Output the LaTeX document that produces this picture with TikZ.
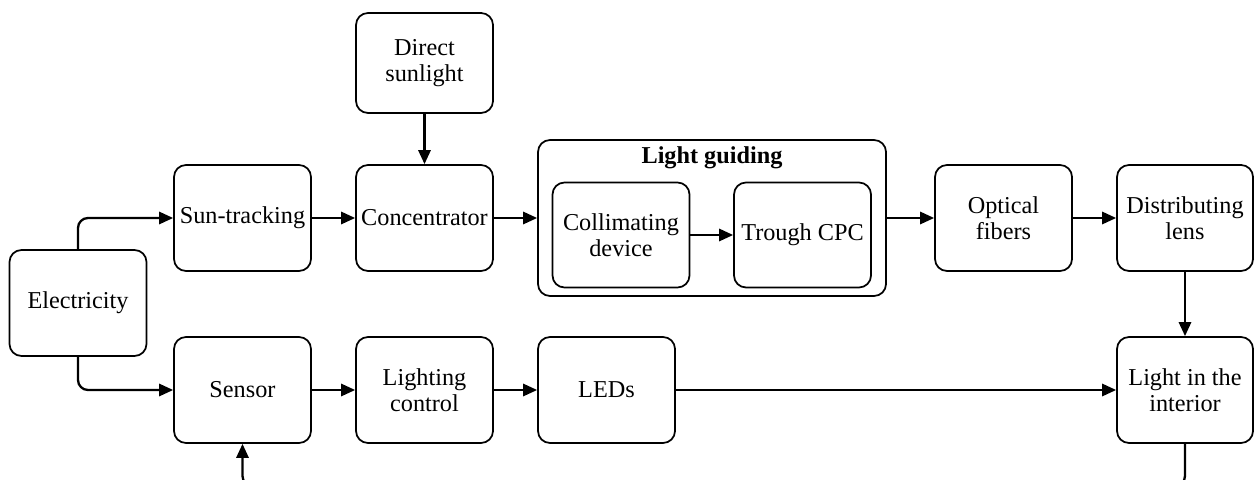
\documentclass[tikz,border=0pt]{standalone}
\usepackage{fontspec}
\setmainfont{Liberation Serif}
\usepackage{tikz}
\usetikzlibrary{arrows.meta,positioning}

\tikzset{
  blk/.style={draw,line width=1pt,rounded corners=0.24cm,minimum width=2.74cm,minimum height=2.12cm,align=center,inner sep=1pt},
  grp/.style={draw,line width=1pt,rounded corners=0.24cm,minimum width=6.96cm,minimum height=3.12cm},
  flow/.style={->,line width=1.3pt},
}

\begin{document}
\begin{tikzpicture}[>={Triangle[length=8pt,width=7pt]},every node/.style={font=\fontsize{13.8}{15}\selectfont}]
    \useasboundingbox (0,0) rectangle (25.08,9.58);
    % upper row
    \node[blk] (elec) at (1.56,3.52) {Electricity};
    \node[blk] (sun) at (4.85,5.22) {Sun-tracking};
    \node[blk] (conc) at (8.49,5.22) {Concentrator};
    \node[blk,minimum height=2.0cm] (direct) at (8.49,8.32) {Direct\\sunlight};
    \node[grp] (guide) at (14.24,5.22) {};
    \node[font=\fontsize{13.8}{15}\selectfont\bfseries] (guidetitle) at (14.24,6.43) {Light guiding};
    \node[blk,minimum height=2.1cm] (coll) at (12.42,4.88) {Collimating\\device};
    \node[blk,minimum height=2.1cm] (trough) at (16.05,4.88) {Trough CPC};
    \node[blk] (fibers) at (20.07,5.22) {Optical\\fibers};
    \node[blk,minimum width=2.72cm] (lens) at (23.70,5.22) {Distributing\\lens};
    % lower row
    \node[blk] (sensor) at (4.85,1.78) {Sensor};
    \node[blk] (control) at (8.49,1.78) {Lighting\\control};
    \node[blk] (leds) at (12.13,1.78) {LEDs};
    \node[blk,minimum width=2.72cm] (interior) at (23.70,1.78) {Light in the\\interior};
    \coordinate (fb) at (12,-0.14);

    \path[flow]
     (direct) edge (conc)
     (sun) edge (conc)
     (conc) edge (guide)
     (coll) edge (trough)
     (guide) edge (fibers)
     (fibers) edge (lens)
     (lens) edge (interior)
     (sensor) edge (control)
     (control) edge (leds)
     (leds) edge (interior);
    \draw[flow,rounded corners=0.2cm] (elec.north) |- (sun.west);
    \draw[flow,rounded corners=0.2cm] (elec.south) |- (sensor.west);
    \draw[flow,rounded corners=0.2cm] (interior.south) -- (interior.south |- fb) -| (sensor.south);
\end{tikzpicture}
\end{document}
